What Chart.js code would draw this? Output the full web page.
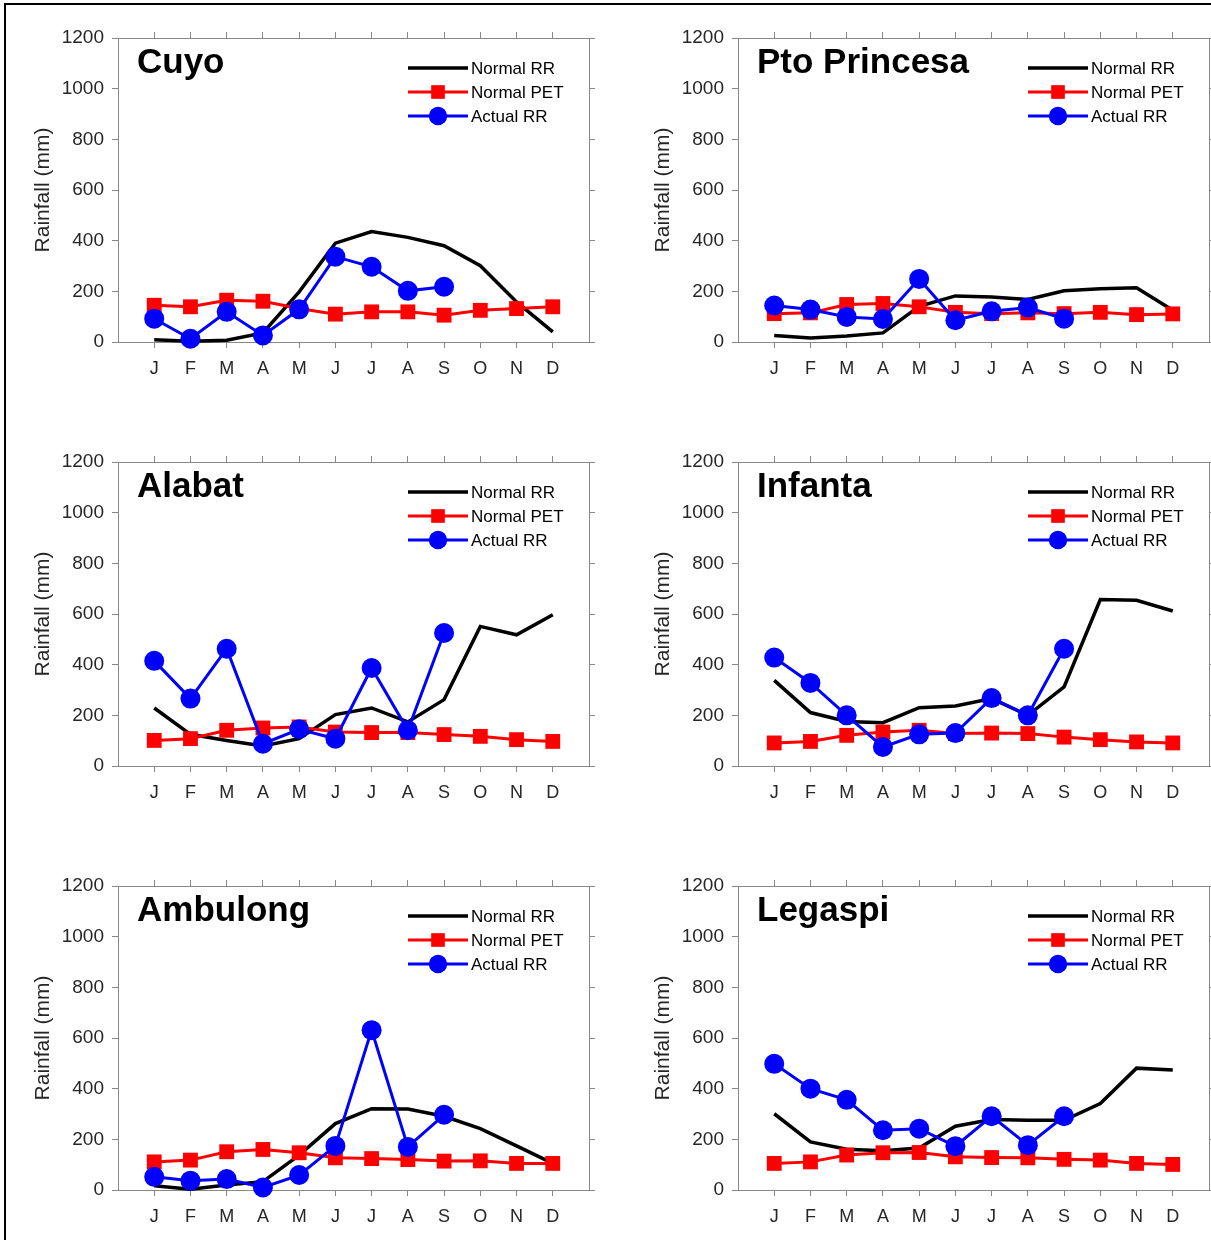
<!DOCTYPE html>
<html>
<head>
<meta charset="utf-8">
<script src="https://cdn.jsdelivr.net/npm/chart.js@4.4.1/dist/chart.umd.min.js"></script>
<style>
  body { margin: 0; background: #fff; width: 1211px; height: 1240px; overflow: hidden; position: relative; }
  #frame { position: absolute; left: 4px; top: 3px; width: 1300px; height: 1300px; border: 2px solid #000; box-sizing: border-box; }
  .panel { position: absolute; width: 600px; height: 364px; }
</style>
</head>
<body>
<div id="frame"></div>
<div id="panels"></div>
<script>
// month labels on the x axis
const months = ["J", "F", "M", "A", "M", "J", "J", "A", "S", "O", "N", "D"];
const yTickValues = [0, 200, 400, 600, 800, 1000, 1200];
const seriesNames = ["Normal RR", "Normal PET", "Actual RR"];

// Cuyo
const cuyoNormalRR = [9, 3, 7, 36, 198, 390, 436, 413, 380, 301, 158, 40];
const cuyoNormalPET = [145, 139, 165, 161, 132, 110, 119, 119, 106, 125, 132, 139];
const cuyoActualRR = [92, 13, 119, 26, 129, 337, 297, 202, 218];

// Pto Princesa
const ptoNormalRR = [26, 16, 24, 36, 141, 182, 178, 168, 202, 210, 214, 125];
const ptoNormalPET = [112, 115, 148, 152, 139, 117, 112, 115, 112, 117, 108, 111];
const ptoActualRR = [144, 128, 99, 91, 249, 86, 121, 136, 92];

// Alabat
const alabatNormalRR = [229, 125, 101, 79, 108, 203, 229, 174, 262, 551, 518, 597];
const alabatNormalPET = [101, 108, 141, 150, 154, 134, 132, 132, 124, 117, 104, 97];
const alabatActualRR = [415, 266, 463, 88, 145, 108, 387, 141, 525];

// Infanta
const infantaNormalRR = [338, 211, 176, 171, 230, 237, 266, 200, 312, 657, 654, 612];
const infantaNormalPET = [91, 97, 121, 134, 141, 128, 130, 128, 114, 104, 95, 91];
const infantaActualRR = [428, 328, 200, 75, 125, 130, 268, 200, 463];

// Ambulong
const ambulongNormalRR = [17, 3, 20, 33, 138, 262, 321, 320, 291, 242, 174, 105];
const ambulongNormalPET = [111, 118, 151, 160, 147, 127, 124, 120, 114, 115, 105, 105];
const ambulongActualRR = [52, 37, 43, 10, 59, 174, 631, 170, 297];

// Legaspi
const legaspiNormalRR = [301, 190, 161, 155, 166, 252, 278, 275, 275, 341, 481, 474];
const legaspiNormalPET = [105, 111, 138, 147, 148, 131, 128, 127, 121, 118, 105, 101];
const legaspiActualRR = [498, 400, 356, 236, 242, 173, 291, 177, 291];

const stationNames = ["Cuyo", "Pto Princesa", "Alabat", "Infanta", "Ambulong", "Legaspi"];
const normalRR = [cuyoNormalRR, ptoNormalRR, alabatNormalRR, infantaNormalRR, ambulongNormalRR, legaspiNormalRR];
const normalPET = [cuyoNormalPET, ptoNormalPET, alabatNormalPET, infantaNormalPET, ambulongNormalPET, legaspiNormalPET];
const actualRR = [cuyoActualRR, ptoActualRR, alabatActualRR, infantaActualRR, ambulongActualRR, legaspiActualRR];

const FONT = "'Liberation Sans', Arial, sans-serif";
const AXIS_GRAY = "#888888";
const TEXT_GRAY = "#262626";

function toPoints(values) {
  return values.map((v, i) => ({ x: i + 1, y: v }));
}

// station name, top-left inside the axes
const panelTitle = {
  id: "panelTitle",
  afterDraw(chart, args, opts) {
    const { ctx, chartArea } = chart;
    ctx.save();
    ctx.font = "bold 35px " + FONT;
    ctx.fillStyle = "#000";
    ctx.textBaseline = "alphabetic";
    ctx.fillText(opts.text, chartArea.left + 19, chartArea.top + 35);
    ctx.restore();
  }
};

// matlab style legend: line with marker in the middle
const insideLegend = {
  id: "insideLegend",
  afterDraw(chart) {
    const { ctx, chartArea } = chart;
    const x0 = chartArea.right - 181;
    const x1 = chartArea.right - 121;
    chart.data.datasets.forEach((ds, i) => {
      const y = chartArea.top + 30 + i * 24;
      ctx.save();
      ctx.strokeStyle = ds.borderColor;
      ctx.lineWidth = ds.borderWidth;
      ctx.beginPath();
      ctx.moveTo(x0, y);
      ctx.lineTo(x1, y);
      ctx.stroke();
      if (ds.pointRadius > 0) {
        ctx.fillStyle = ds.pointBackgroundColor;
        Chart.helpers.drawPoint(ctx, { pointStyle: ds.pointStyle, radius: ds.pointRadius * 0.92, borderWidth: 0 }, (x0 + x1) / 2, y);
      }
      ctx.font = "17px " + FONT;
      ctx.fillStyle = "#000";
      ctx.textBaseline = "middle";
      ctx.fillText(ds.label, x1 + 3, y + 1);
      ctx.restore();
    });
  }
};

function axisGrid() {
  return { display: true, drawOnChartArea: false, drawTicks: true, tickLength: 6, color: AXIS_GRAY };
}

function makeChart(index) {
  const col = index % 2;
  const row = Math.floor(index / 2);
  const left = col === 0 ? 0 : 620;
  const top = 18 + row * 424;

  const div = document.createElement("div");
  div.className = "panel";
  div.style.left = left + "px";
  div.style.top = top + "px";
  const canvas = document.createElement("canvas");
  canvas.width = 600;
  canvas.height = 364;
  div.appendChild(canvas);
  document.getElementById("panels").appendChild(div);

  const monthTicks = (scale) => {
    scale.ticks = months.map((m, i) => ({ value: i + 1 }));
  };

  return new Chart(canvas, {
    type: "line",
    data: {
      datasets: [
        {
          label: seriesNames[0], data: toPoints(normalRR[index]),
          borderColor: "#000000", backgroundColor: "#000000", borderWidth: 3.5,
          pointRadius: 0, order: 3, clip: false
        },
        {
          label: seriesNames[1], data: toPoints(normalPET[index]),
          borderColor: "#ff0000", backgroundColor: "#ff0000", pointBackgroundColor: "#ff0000",
          borderWidth: 3, pointStyle: "rect", pointRadius: 10.5, pointBorderWidth: 0, order: 2, clip: false
        },
        {
          label: seriesNames[2], data: toPoints(actualRR[index]),
          borderColor: "#0000ff", backgroundColor: "#0000ff", pointBackgroundColor: "#0000ff",
          borderWidth: 3, pointStyle: "circle", pointRadius: 10, pointBorderWidth: 0, order: 1, clip: false
        }
      ]
    },
    options: {
      responsive: false,
      animation: false,
      events: [],
      layout: { padding: { top: 20, right: 11, bottom: 0, left: 0 } },
      plugins: {
        legend: { display: false },
        tooltip: { enabled: false },
        panelTitle: { text: stationNames[index] }
      },
      scales: {
        x: {
          type: "linear", position: "bottom", min: 0, max: 13,
          afterBuildTicks: monthTicks,
          afterFit: (s) => { s.height = 40; s.paddingLeft = 0; s.paddingRight = 0; },
          ticks: {
            color: TEXT_GRAY, padding: 10, maxRotation: 0, autoSkip: false,
            font: { family: FONT, size: 18 },
            callback: (v) => months[v - 1] || ""
          },
          grid: axisGrid(),
          border: { display: true, color: AXIS_GRAY, width: 1 }
        },
        xTop: {
          type: "linear", position: "top", min: 0, max: 13,
          afterBuildTicks: monthTicks,
          afterFit: (s) => { s.height = 0; s.paddingLeft = 0; s.paddingRight = 0; },
          ticks: { display: false },
          grid: axisGrid(),
          border: { display: true, color: AXIS_GRAY, width: 1 }
        },
        y: {
          type: "linear", position: "left", min: 0, max: 1200,
          afterBuildTicks: (s) => { s.ticks = yTickValues.map((v) => ({ value: v })); },
          afterFit: (s) => { s.width = 118; s.paddingTop = 0; s.paddingBottom = 0; },
          ticks: {
            color: TEXT_GRAY, padding: 8, font: { family: FONT, size: 19 },
            callback: (v) => String(v)
          },
          title: {
            display: true, text: "Rainfall (mm)", color: TEXT_GRAY,
            font: { family: FONT, size: 21 }, padding: { top: 31, bottom: 0 }
          },
          grid: axisGrid(),
          border: { display: true, color: AXIS_GRAY, width: 1 }
        },
        yRight: {
          type: "linear", position: "right", min: 0, max: 1200,
          afterBuildTicks: (s) => { s.ticks = yTickValues.map((v) => ({ value: v })); },
          afterFit: (s) => { s.width = 0; s.paddingTop = 0; s.paddingBottom = 0; },
          ticks: { display: false },
          grid: axisGrid(),
          border: { display: true, color: AXIS_GRAY, width: 1 }
        }
      }
    },
    plugins: [panelTitle, insideLegend]
  });
}

stationNames.forEach((name, i) => makeChart(i));
</script>
</body>
</html>
